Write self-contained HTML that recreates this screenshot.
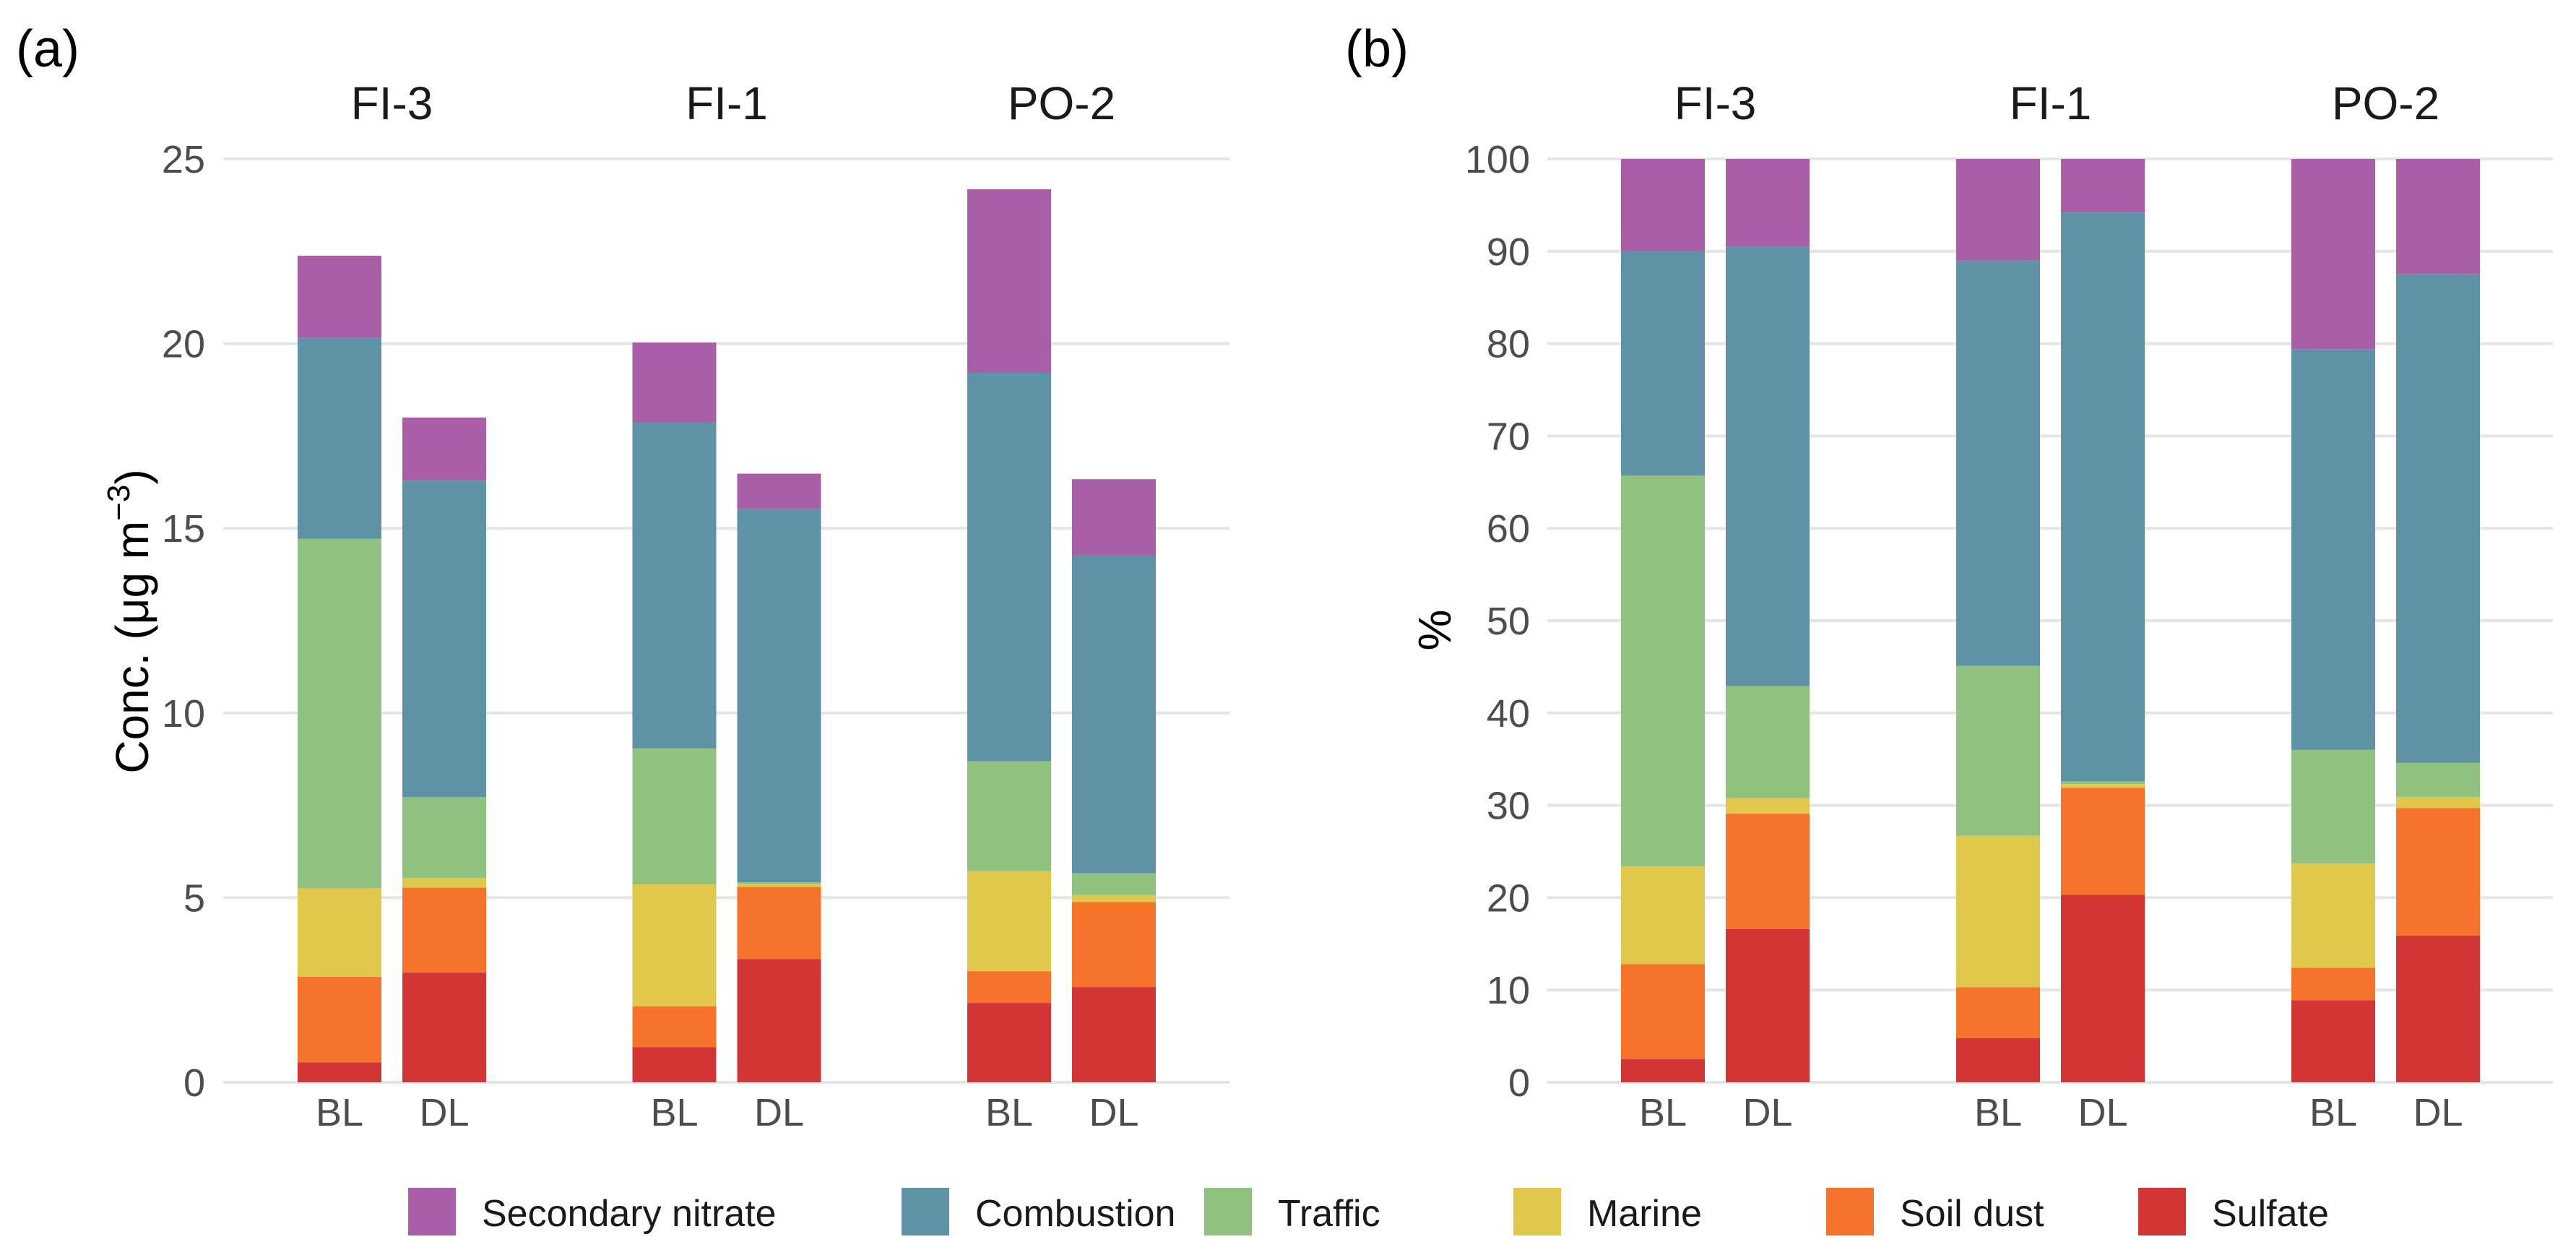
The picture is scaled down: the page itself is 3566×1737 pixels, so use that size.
<!DOCTYPE html>
<html><head><meta charset="utf-8"><style>
html,body{margin:0;padding:0;background:#fff}
svg{display:block;font-family:"Liberation Sans",Arial,sans-serif}
</style></head><body>
<svg id="chart" width="3566" height="1737" viewBox="0 0 3566 1737"></svg>
<script>
const sources = ["Sulfate","Soil dust","Marine","Traffic","Combustion","Secondary nitrate"];
const colors = ["#d33535","#f5732a","#e0c84a","#90c17f","#5e92a5","#a95fa8"];
const sites = ["FI-3","FI-1","PO-2"];
const periods = ["BL","DL"];
// panel a: concentration per source, bars order FI-3 BL, FI-3 DL, FI-1 BL, FI-1 DL, PO-2 BL, PO-2 DL
const concSulfate    = [0.54,2.97,0.95,3.34,2.15,2.58];
const concSoil       = [2.32,2.30,1.11,1.95,0.86,2.30];
const concMarine     = [2.39,0.26,3.30,0.09,2.71,0.19];
const concTraffic    = [9.47,2.19,3.68,0.04,2.97,0.59];
const concCombustion = [5.44,8.58,8.83,10.10,10.52,8.61];
const concNitrate    = [2.22,1.70,2.16,0.96,4.97,2.06];
// panel b: percentage per source
const pctSulfate    = [2.5,16.6,4.8,20.3,8.9,15.9];
const pctSoil       = [10.3,12.5,5.5,11.6,3.5,13.8];
const pctMarine     = [10.6,1.7,16.4,0.4,11.3,1.2];
const pctTraffic    = [42.3,12.1,18.4,0.3,12.3,3.7];
const pctCombustion = [24.3,47.6,43.9,61.6,43.4,52.9];
const pctNitrate    = [10.0,9.5,11.0,5.8,20.6,12.5];
const ticksA = [0,5,10,15,20,25];
const ticksB = [0,10,20,30,40,50,60,70,80,90,100];

const NS="http://www.w3.org/2000/svg";
const svg=document.getElementById('chart');
function mk(tag,attrs,parent){const e=document.createElementNS(NS,tag);for(const k in attrs)e.setAttribute(k,attrs[k]);(parent||svg).appendChild(e);return e;}

const Y0=1498, Y1=220;
function panel(cfg){
  const g=mk('g',{});
  
  
  const ymax=cfg.ticks[cfg.ticks.length-1];
  const y=v=>Y0-(v/ymax)*(Y0-Y1);
  const x=(si,pi)=>cfg.x0+si*cfg.groupStep+pi*145;
  cfg.ticks.forEach(t=>{
    const l=mk('line',{x1:cfg.gl,x2:cfg.gr,y1:y(t),y2:y(t),stroke:'#e5e5e5','stroke-width':4},g);
    
    
    const tx=mk('text',{x:cfg.tickX,y:y(t)+19,'text-anchor':'end','font-size':54,fill:'#4d4d4d'},g);
    tx.textContent=t;
    
    
  });
  sites.forEach((s,si)=>{
    const ft=mk('text',{x:(x(si,0)+x(si,1))/2,y:165,'text-anchor':'middle','font-size':64,fill:'#1a1a1a'},g);
    ft.textContent=s;
    
    
    periods.forEach((p,pi)=>{
      const bi=si*2+pi;
      let cum=0;
      cfg.series.forEach((arr,k)=>{
        const v=arr[bi];
        const r=mk('rect',{x:x(si,pi)-58,y:y(cum+v),width:116,height:Math.max(0,y(cum)-y(cum+v)),fill:colors[k]},g);
        
        
        cum+=v;
      });
      const xl=mk('text',{x:x(si,pi),y:1558,'text-anchor':'middle','font-size':54,fill:'#4d4d4d'},g);
      xl.textContent=p;
      
      
    });
  });
  const tl=mk('text',{x:cfg.tagX,y:92,'font-size':72,fill:'#000'},g);
  tl.textContent=cfg.tag;
  
  
  return {g,y};
}
const pa=panel({name:'panel-a',x0:470,groupStep:463.5,gl:309,gr:1702,tickX:284,ticks:ticksA,tag:'(a)',tagX:22,
  series:[concSulfate,concSoil,concMarine,concTraffic,concCombustion,concNitrate]});
const pb=panel({name:'panel-b',x0:2302,groupStep:464,gl:2142,gr:3534,tickX:2118,ticks:ticksB,tag:'(b)',tagX:1862,
  series:[pctSulfate,pctSoil,pctMarine,pctTraffic,pctCombustion,pctNitrate]});

const ya=mk('text',{x:0,y:0,'text-anchor':'middle','font-size':64,fill:'#000',transform:'translate(205,860) rotate(-90)'});
ya.innerHTML='Conc. (μg m<tspan dy="-26" font-size="44">−3</tspan><tspan dy="26">)</tspan>';


const yb=mk('text',{x:0,y:0,'text-anchor':'middle','font-size':64,fill:'#000',transform:'translate(2008,872) rotate(-90)'});
yb.textContent='%';



const legendOrder=[5,4,3,2,1,0];
const legX=[565,1248,1667,2095,2528,2960];
legendOrder.forEach((k,i)=>{
  const r=mk('rect',{x:legX[i],y:1644,width:66,height:66,fill:colors[k]});
  
  
  const t=mk('text',{x:legX[i]+102,y:1697,'font-size':52,fill:'#1a1a1a'});
  t.textContent=sources[k];
  
  
});
</script>
</body></html>
